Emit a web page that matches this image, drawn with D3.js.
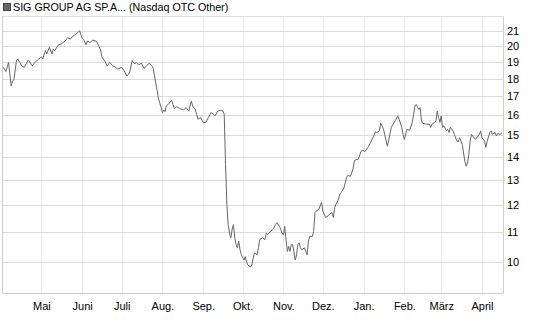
<!DOCTYPE html>
<html>
<head>
<meta charset="utf-8">
<script src="https://cdn.jsdelivr.net/npm/d3@7"></script>
<style>
  body { margin: 0; background: #fff; }
  svg { display: block; font-family: "Liberation Sans", Arial, sans-serif; }
</style>
</head>
<body>
<script>
// Chart size
const WIDTH = 545;
const HEIGHT = 327;

// Plot box
const LEFT = 2;
const RIGHT = 503;
const TOP = 16;
const BOTTOM = 293;

const TITLE = 'SIG GROUP AG SP.A... (Nasdaq OTC Other)';

// Trading dates and closing prices
const dates = [
  '2025-04-02','2025-04-04','2025-04-06','2025-04-08','2025-04-09','2025-04-10','2025-04-12','2025-04-13','2025-04-16','2025-04-18',
  '2025-04-21','2025-04-24','2025-04-26','2025-04-29','2025-05-01','2025-05-02','2025-05-04','2025-05-05','2025-05-07','2025-05-09',
  '2025-05-10','2025-05-11','2025-05-14','2025-05-16','2025-05-19','2025-05-21','2025-05-23','2025-05-25','2025-05-27','2025-05-30',
  '2025-05-31','2025-06-01','2025-06-02','2025-06-04','2025-06-05','2025-06-07','2025-06-09','2025-06-12','2025-06-15','2025-06-16',
  '2025-06-18','2025-06-20','2025-06-22','2025-06-24','2025-06-26','2025-06-28','2025-07-01','2025-07-03','2025-07-05','2025-07-07',
  '2025-07-09','2025-07-11','2025-07-12','2025-07-14','2025-07-16','2025-07-18','2025-07-20','2025-07-22','2025-07-24','2025-07-25',
  '2025-07-26','2025-07-28','2025-07-29','2025-07-31','2025-08-01','2025-08-02','2025-08-03','2025-08-04','2025-08-06','2025-08-08',
  '2025-08-09','2025-08-10','2025-08-12','2025-08-14','2025-08-17','2025-08-19','2025-08-21','2025-08-23','2025-08-24','2025-08-26',
  '2025-08-27','2025-08-28','2025-08-30','2025-09-01','2025-09-03','2025-09-05','2025-09-07','2025-09-09','2025-09-10','2025-09-12',
  '2025-09-14','2025-09-16','2025-09-17','2025-09-18','2025-09-19','2025-09-20','2025-09-21','2025-09-22','2025-09-23','2025-09-24',
  '2025-09-25','2025-09-26','2025-09-27','2025-09-28','2025-09-29','2025-09-30','2025-10-02','2025-10-03','2025-10-04','2025-10-05',
  '2025-10-07','2025-10-08','2025-10-09','2025-10-10','2025-10-12','2025-10-13','2025-10-14','2025-10-16','2025-10-18','2025-10-19',
  '2025-10-20','2025-10-22','2025-10-24','2025-10-26','2025-10-27','2025-10-29','2025-10-30','2025-10-31','2025-11-01','2025-11-02',
  '2025-11-03','2025-11-04','2025-11-05','2025-11-06','2025-11-07','2025-11-08','2025-11-09','2025-11-10','2025-11-11','2025-11-12',
  '2025-11-13','2025-11-14','2025-11-15','2025-11-17','2025-11-18','2025-11-19','2025-11-20','2025-11-21','2025-11-23','2025-11-24',
  '2025-11-25','2025-11-26','2025-11-28','2025-11-30','2025-12-01','2025-12-03','2025-12-05','2025-12-06','2025-12-08','2025-12-09',
  '2025-12-10','2025-12-11','2025-12-13','2025-12-14','2025-12-15','2025-12-17','2025-12-19','2025-12-20','2025-12-22','2025-12-24',
  '2025-12-25','2025-12-26','2025-12-28','2025-12-30','2025-12-31','2026-01-02','2026-01-04','2026-01-06','2026-01-08','2026-01-10',
  '2026-01-11','2026-01-13','2026-01-14','2026-01-16','2026-01-17','2026-01-19','2026-01-20','2026-01-22','2026-01-25','2026-01-27',
  '2026-01-28','2026-01-30','2026-01-31','2026-02-01','2026-02-03','2026-02-05','2026-02-07','2026-02-08','2026-02-09','2026-02-10',
  '2026-02-12','2026-02-13','2026-02-14','2026-02-15','2026-02-18','2026-02-20','2026-02-21','2026-02-22','2026-02-24','2026-02-25',
  '2026-02-26','2026-02-27','2026-02-28','2026-03-01','2026-03-02','2026-03-03','2026-03-05','2026-03-06','2026-03-07','2026-03-08',
  '2026-03-10','2026-03-11','2026-03-13','2026-03-14','2026-03-15','2026-03-17','2026-03-18','2026-03-19','2026-03-20','2026-03-21',
  '2026-03-22','2026-03-23','2026-03-24','2026-03-25','2026-03-27','2026-03-28','2026-03-30','2026-03-31','2026-04-01','2026-04-03',
  '2026-04-04','2026-04-05','2026-04-07','2026-04-08','2026-04-09','2026-04-11','2026-04-12','2026-04-13','2026-04-15','2026-04-16'
];

const prices = [
  18.66,18.41,18.96,17.57,17.85,17.94,19.06,19.17,18.75,18.66,
  19.11,18.75,18.96,19.17,19.28,19.17,19.69,19.48,19.90,19.48,
  19.79,19.69,20.06,20.11,20.31,20.53,20.42,20.63,20.73,20.98,
  20.73,20.48,20.42,20.06,20.31,20.21,20.36,20.28,19.73,19.28,
  19.06,18.75,18.96,18.75,18.69,18.55,18.66,18.45,18.14,18.35,
  19.06,18.86,18.96,18.80,18.92,18.60,18.75,18.92,18.75,18.60,
  18.14,17.32,16.88,16.40,16.14,16.27,16.19,16.48,16.62,16.79,
  16.57,16.35,16.45,16.35,16.27,16.40,16.22,16.74,16.48,16.31,
  16.05,15.80,15.89,15.64,15.64,15.89,16.14,16.05,15.97,16.22,
  16.26,16.22,16.05,13.66,12.03,11.27,10.97,10.80,11.09,11.27,
  10.80,10.57,10.46,10.69,10.40,10.23,10.06,10.17,10.00,9.90,
  9.84,9.90,10.12,10.29,10.23,10.46,10.74,10.80,10.74,10.97,
  10.91,11.02,11.09,11.27,11.34,11.21,11.09,10.97,10.91,11.21,
  10.74,10.34,10.51,10.34,10.57,10.57,10.34,10.06,10.23,10.57,
  10.63,10.46,10.40,10.46,10.34,10.23,10.69,10.85,10.85,11.02,
  11.71,11.77,11.84,12.10,11.77,11.53,11.59,11.65,11.71,11.53,
  11.90,12.03,12.23,12.43,12.50,12.67,13.10,13.20,13.15,13.49,
  13.84,13.87,13.90,14.25,14.30,14.25,14.41,14.62,14.89,15.17,
  15.14,15.22,15.60,15.34,15.05,14.49,14.73,15.39,15.72,15.97,
  15.80,15.39,15.05,14.81,15.30,15.25,15.64,16.05,16.48,16.57,
  16.31,16.40,15.72,15.59,15.55,15.55,15.39,15.55,15.64,15.72,
  16.22,15.89,15.64,15.97,15.39,15.47,15.22,15.30,15.14,15.39,
  15.22,15.05,14.73,14.70,14.89,14.57,14.18,13.80,13.59,13.73,
  14.10,14.73,15.05,14.97,14.81,14.89,15.05,15.22,14.89,14.73,
  14.44,14.73,15.14,15.22,15.05,15.14,14.97,15.09,15.05,15.14
];

// Axis ticks
const monthTicks = ['2025-05-01','2025-06-01','2025-07-01','2025-08-01','2025-09-01','2025-10-01',
                    '2025-11-01','2025-12-01','2026-01-01','2026-02-01','2026-03-01','2026-04-01'];
const monthLabels = ['Mai','Juni','Juli','Aug.','Sep.','Okt.','Nov.','Dez.','Jan.','Feb.','März','April'];
const priceTicks = [10, 11, 12, 13, 14, 15, 16, 17, 18, 19, 20, 21];

const parse = d3.timeParse('%Y-%m-%d');

function initCanvas() {
    return d3.select('body')
        .append('svg')
        .attr('width', WIDTH)
        .attr('height', HEIGHT);
}

function drawTitle(svg) {
    svg.append('rect')
        .attr('x', 3.5)
        .attr('y', 3.5)
        .attr('width', 7)
        .attr('height', 7)
        .attr('fill', '#666')
        .attr('stroke', '#444');

    svg.append('text')
        .attr('x', 13)
        .attr('y', 11)
        .attr('font-size', '10.7px')
        .attr('fill', '#000')
        .text(TITLE);
}

function drawChart(svg) {
    const x = d3.scaleTime()
        .domain([parse('2025-04-01'), parse('2026-04-17')])
        .range([LEFT, RIGHT]);

    const y = d3.scaleLog()
        .domain([9.05, 22])
        .range([BOTTOM, TOP]);

    const tickDates = monthTicks.map(parse);

    // vertical grid
    svg.append('g')
        .selectAll('line')
        .data(tickDates)
        .join('line')
        .attr('x1', d => Math.round(x(d)) + 0.5)
        .attr('x2', d => Math.round(x(d)) + 0.5)
        .attr('y1', TOP)
        .attr('y2', BOTTOM)
        .attr('stroke', '#ececec');

    // horizontal grid
    svg.append('g')
        .selectAll('line')
        .data(priceTicks)
        .join('line')
        .attr('x1', LEFT)
        .attr('x2', RIGHT)
        .attr('y1', d => Math.round(y(d)) + 0.5)
        .attr('y2', d => Math.round(y(d)) + 0.5)
        .attr('stroke', '#dcdcdc');

    // frame
    svg.append('line')
        .attr('x1', LEFT).attr('x2', RIGHT)
        .attr('y1', TOP + 0.5).attr('y2', TOP + 0.5)
        .attr('stroke', '#e0e0e0');
    svg.append('path')
        .attr('d', `M${LEFT + 0.5},${TOP}V${BOTTOM + 0.5}H${RIGHT + 0.5}V${TOP}`)
        .attr('fill', 'none')
        .attr('stroke', '#cfcfcf');

    // x axis labels
    const xAxis = d3.axisBottom(x)
        .tickValues(tickDates)
        .tickFormat((d, i) => monthLabels[i])
        .tickSize(0)
        .tickPadding(9);
    const gx = svg.append('g')
        .attr('transform', `translate(0,${BOTTOM})`)
        .call(xAxis);
    gx.select('.domain').remove();
    gx.selectAll('text')
        .attr('font-size', '11px')
        .attr('font-family', '"Liberation Sans", Arial, sans-serif')
        .attr('fill', '#000');

    // y axis labels on the right
    const yAxis = d3.axisRight(y)
        .tickValues(priceTicks)
        .tickFormat(d3.format('d'))
        .tickSize(0)
        .tickPadding(4);
    const gy = svg.append('g')
        .attr('transform', `translate(${RIGHT},0)`)
        .call(yAxis);
    gy.select('.domain').remove();
    gy.selectAll('text')
        .attr('font-size', '11px')
        .attr('font-family', '"Liberation Sans", Arial, sans-serif')
        .attr('fill', '#000');

    // price line
    const points = dates.map((d, i) => ({ date: parse(d), value: prices[i] }));
    const line = d3.line()
        .x(d => x(d.date))
        .y(d => y(d.value));

    svg.append('path')
        .datum(points)
        .attr('d', line)
        .attr('fill', 'none')
        .attr('stroke', '#666')
        .attr('stroke-width', 1);
}

function main() {
    const svg = initCanvas();
    drawTitle(svg);
    drawChart(svg);
}

main();
</script>
</body>
</html>
